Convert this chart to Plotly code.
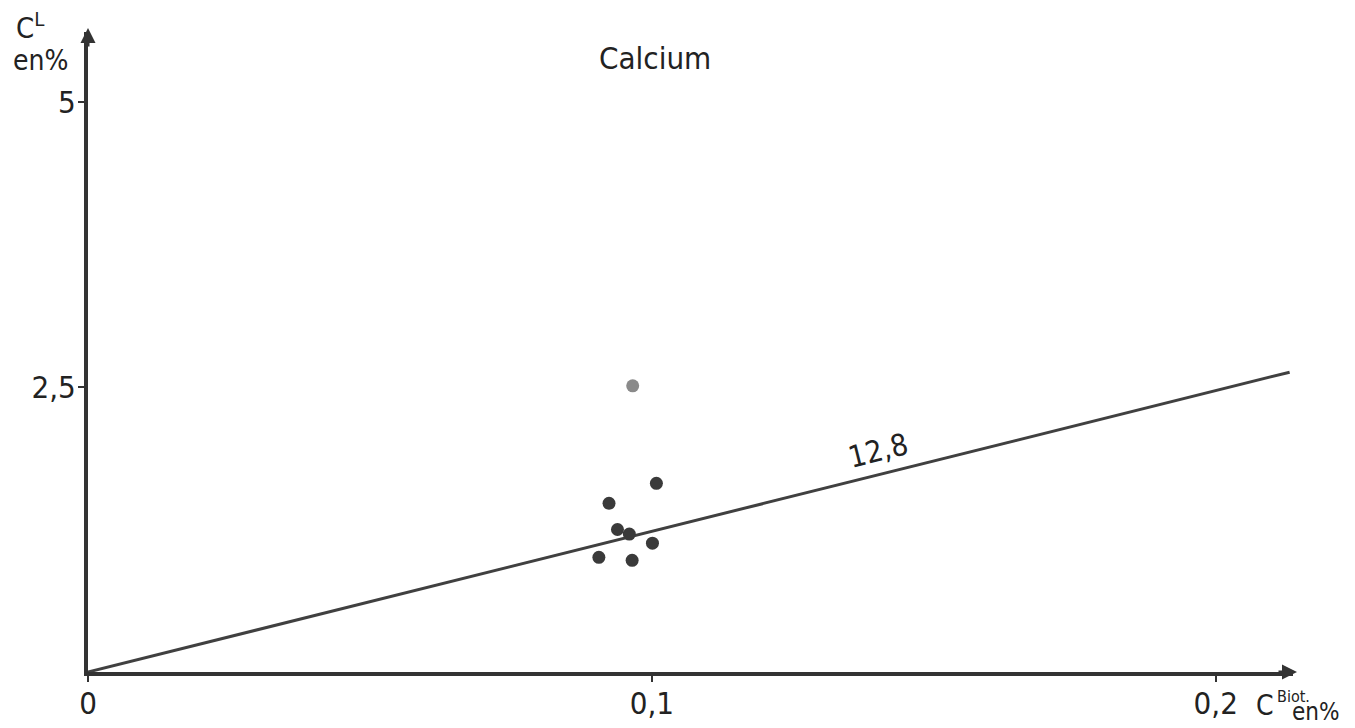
import plotly.graph_objects as go

# Data
biot_x = [0.0966, 0.1008, 0.0924, 0.0939, 0.0960, 0.1001, 0.0906, 0.0965]
leaf_y = [2.51, 1.655, 1.48, 1.25, 1.21, 1.13, 1.006, 0.98]
point_colors = ["#8a8a8a", "#3a3a3a", "#3a3a3a", "#3a3a3a", "#3a3a3a", "#3a3a3a", "#3a3a3a", "#3a3a3a"]
fit_x = [0.0, 0.2131]
fit_y = [0.0, 2.63]
x_ticks = [0.0, 0.1, 0.2]
x_ticktext = ["0", "0,1", "0,2"]
y_ticks = [2.5, 5.0]
y_ticktext = ["2,5", "5"]
slope_label = "12,8"
title_text = "Calcium"

OFF = 8  # page body margin
W, H = 1355 - OFF, 728 - OFF
L, R, T, B = 88, 1293, 32, 672   # plot area in screen pixels
XMAX = 0.2137
YMAX = (B - T) / 114.0
FONT = "DejaVu Sans Condensed, Liberation Sans Narrow, Roboto, sans-serif"
INK = "#333333"
TXT = "#222222"


def px(xs):
    return (xs - L) / (R - L)


def py(ys):
    return (B - ys) / (B - T)


fig = go.Figure()
fig.add_trace(go.Scatter(x=fit_x, y=fit_y, mode="lines",
                         line=dict(color="#404040", width=3), hoverinfo="skip",
                         showlegend=False))
fig.add_trace(go.Scatter(x=biot_x, y=leaf_y, mode="markers",
                         marker=dict(size=13, color=point_colors), showlegend=False))

fig.update_layout(
    width=W, height=H,
    margin=dict(l=L - OFF, r=W - (R - OFF), t=T - OFF, b=H - (B - OFF), pad=0),
    paper_bgcolor="white", plot_bgcolor="white",
    font=dict(family=FONT, color=TXT, size=28),
    xaxis=dict(range=[0, XMAX], showgrid=False, zeroline=False, showline=True,
               automargin=False,
               linecolor=INK, linewidth=4, tickvals=x_ticks, ticktext=x_ticktext,
               ticks="outside", ticklen=6, tickwidth=2, tickcolor=INK,
               ticklabelstandoff=-5,
               tickfont=dict(size=31, family=FONT, color=TXT)),
    yaxis=dict(range=[0, YMAX], showgrid=False, zeroline=False, showline=True,
               automargin=False,
               linecolor=INK, linewidth=4, tickvals=y_ticks, ticktext=y_ticktext,
               ticks="outside", ticklen=6, tickwidth=2, tickcolor=INK,
               ticklabelstandoff=-4,
               tickfont=dict(size=31, family=FONT, color=TXT)),
)

ann = []
# arrowheads
ann.append(dict(xref="paper", yref="paper", x=px(1297), y=py(672), ax=-20, ay=0,
                showarrow=True, arrowhead=2, arrowsize=1, arrowwidth=3,
                arrowcolor=INK, text=""))
ann.append(dict(xref="paper", yref="paper", x=px(88), y=py(28), ax=0, ay=20,
                showarrow=True, arrowhead=2, arrowsize=1, arrowwidth=3,
                arrowcolor=INK, text=""))
# title
ann.append(dict(xref="paper", yref="paper", x=px(655), y=py(58), text=title_text,
                showarrow=False, font=dict(size=31, family=FONT, color=TXT),
                xanchor="center", yanchor="middle"))
# slope label
ann.append(dict(xref="paper", yref="paper", x=px(878), y=py(450), text=slope_label,
                showarrow=False, textangle=-14, font=dict(size=30, family=FONT, color=TXT),
                xanchor="center", yanchor="middle"))
# y axis title
ann.append(dict(xref="paper", yref="paper", x=px(30), y=py(26),
                text="C<sup>L</sup>", showarrow=False,
                font=dict(size=29, family=FONT, color=TXT),
                xanchor="center", yanchor="middle"))
ann.append(dict(xref="paper", yref="paper", x=px(40), y=py(61),
                text="en%", showarrow=False,
                font=dict(size=28, family=FONT, color=TXT),
                xanchor="center", yanchor="middle"))
# x axis title
ann.append(dict(xref="paper", yref="paper", x=px(1254), y=py(705),
                text="C", showarrow=False,
                font=dict(size=28, family=FONT, color=TXT),
                xanchor="left", yanchor="middle"))
ann.append(dict(xref="paper", yref="paper", x=px(1275), y=py(696),
                text="Biot.", showarrow=False,
                font=dict(size=16, family=FONT, color=TXT),
                xanchor="left", yanchor="middle"))
ann.append(dict(xref="paper", yref="paper", x=px(1290), y=py(712),
                text="en%", showarrow=False,
                font=dict(size=24, family=FONT, color=TXT),
                xanchor="left", yanchor="middle"))
fig.update_layout(annotations=ann)

fig.write_html("out.html")
